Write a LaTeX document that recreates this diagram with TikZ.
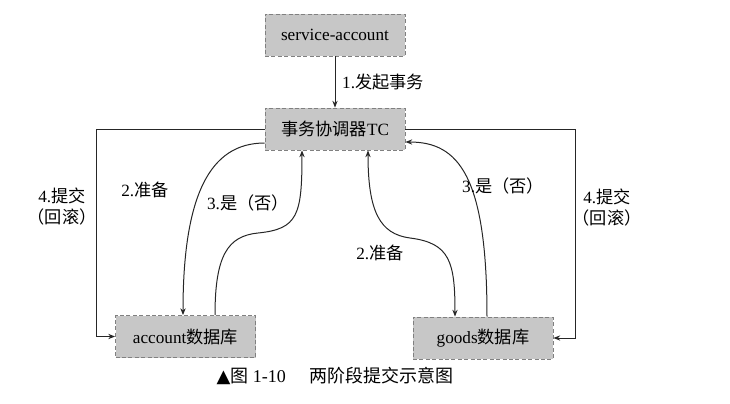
\documentclass[tikz,border=0pt]{standalone}
\usepackage{fontspec}
\setmainfont{Liberation Serif}
\newfontfamily\cjk{Noto Sans CJK SC}
\newfontfamily\symfont{DejaVu Sans}
\usetikzlibrary{arrows.meta,positioning}

\begin{document}
\begin{tikzpicture}[x=0.5pt,y=-0.5pt,
  font=\fontsize{8.6}{10.5}\selectfont,
  box/.style={draw=black!50, fill=black!22, dash pattern=on 2pt off 1.2pt,
              minimum width=70pt, minimum height=21pt, inner sep=2pt},
  a/.style={-{Stealth[length=3.4pt,width=2.6pt]}, draw=black!85, line width=0.5pt},
  aa/.style={a, {Stealth[length=3.4pt,width=2.6pt]}-{Stealth[length=3.4pt,width=2.6pt]}},
  lbl/.style={inner sep=1pt, align=center}
]
\useasboundingbox (0,0) rectangle (730,403);

\node[box] (sa) at (335,35) {service-account};
\node[box] (tc) at (335,129) {{\cjk 事务协调器}TC};
\node[box] (acc) at (185.5,336.5) {account{\cjk 数据库}};
\node[box] (goods) at (483,338) {goods{\cjk 数据库}};

\coordinate (lx) at (96,0);
\coordinate (rx) at (575,0);

\draw[a] (sa) -- (tc);
\node[lbl] (l1) at (383,82) {1.{\cjk 发起事务}};

\draw[a] (tc.west) -- (tc.west -| lx) |- (acc.west);
\draw[a] (tc.east) -- (tc.east -| rx) |- (goods.east);
\node[lbl] (l4a) at (62,207) {4.{\cjk 提交}\\{\cjk （回滚）}};
\node[lbl] (l4b) at (607,208) {4.{\cjk 提交}\\{\cjk （回滚）}};

\draw[a] ([yshift=-7pt]tc.west) .. controls (210,143) and (183,195) .. ([xshift=-1.25pt]acc.north);
\node[lbl] (l2a) at (145,190) {2.{\cjk 准备}};

\draw[a] ([xshift=14.75pt]acc.north) .. controls (215,255) and (228,236) .. (258,233)
  .. controls (298,229) and (302,215) .. ([xshift=-16.5pt]tc.south);
\node[lbl] (l3a) at (248,203) {3.{\cjk 是（否）}};

\draw[aa] ([xshift=16.5pt]tc.south) .. controls (368,212) and (380,234) .. (410,238)
  .. controls (450,243) and (455,262) .. ([xshift=-14pt]goods.north);
\node[lbl] (l2b) at (380,253) {2.{\cjk 准备}};

\draw[a] ([xshift=2pt]goods.north) .. controls (487,175) and (458,142) .. ([yshift=-6.5pt]tc.east);
\node[lbl] (l3b) at (503,186) {3.{\cjk 是（否）}};

\node[lbl, font=\fontsize{9}{11}\selectfont] (cap) at (335,376)
  {{\symfont ▲}{\cjk 图} 1-10\hspace{1.3em}{\cjk 两阶段提交示意图}};
\end{tikzpicture}
\end{document}
